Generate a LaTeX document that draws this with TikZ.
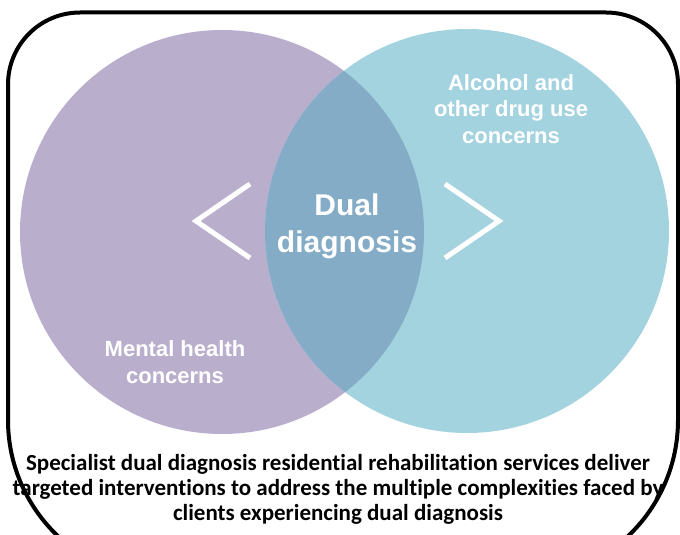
\documentclass[tikz,border=0pt]{standalone}
\usepackage{fontspec}
\setmainfont{Liberation Sans}
\newfontfamily\calib[Ligatures=CommonOff]{Carlito}
\definecolor{purp}{HTML}{BAAECD}
\definecolor{blu}{HTML}{A4D3E0}
\definecolor{ovl}{HTML}{85ACC6}
\begin{document}
\begin{tikzpicture}[x=1pt,y=-1pt,
  lab/.style={text=white, font=\bfseries\fontsize{22}{26.5}\selectfont, align=center, inner sep=0pt},
  big/.style={text=white, font=\bfseries\fontsize{30}{36.5}\selectfont, align=center, inner sep=0pt},
  chev/.style={white, line width=5pt, miter limit=10},
  captext/.style={font=\calib\bfseries\fontsize{23}{25}\selectfont, align=center, inner sep=0pt},
  framebox/.style={line width=4pt}]
\useasboundingbox (0,0) rectangle (680,535);
\fill[white] (0,0) rectangle (680,535);
\begin{scope}
  \clip (0,0) rectangle (680,535);
  \draw[framebox] (8,420) -- (8,84.5) arc[start angle=180, end angle=90, radius=72pt]
    -- (606,12.5) arc[start angle=90, end angle=0, radius=72pt]
    -- (678,420) arc[start angle=0, end angle=-90, radius=160pt]
    -- (168,580) arc[start angle=270, end angle=180, radius=160pt] -- cycle;
\end{scope}
\node[circle, fill=purp, minimum size=404pt, inner sep=0pt] (mhc) at (222,232) {};
\node[circle, fill=blu, minimum size=404pt, inner sep=0pt] (adc) at (467,231) {};
\begin{scope}
  \clip (222,232) circle[radius=202pt];
  \fill[ovl] (467,231) circle[radius=202pt];
\end{scope}
\draw[chev] (250,184) -- (196,221) -- (250,258);
\draw[chev] (445,184) -- (499,221) -- (445,258);
\node[big, anchor=base] (dd) at (347,252) {Dual\\diagnosis};
\node[lab, anchor=base] (ad) at (511,143) {Alcohol and\\other drug use\\concerns};
\node[lab, anchor=base] (mh) at (175,383) {Mental health\\concerns};
\node[captext, anchor=base] (caption) at (338,520) {Specialist dual diagnosis residential rehabilitation services deliver\\targeted interventions to address the multiple complexities faced by\\clients experiencing dual diagnosis};
\end{tikzpicture}
\end{document}
